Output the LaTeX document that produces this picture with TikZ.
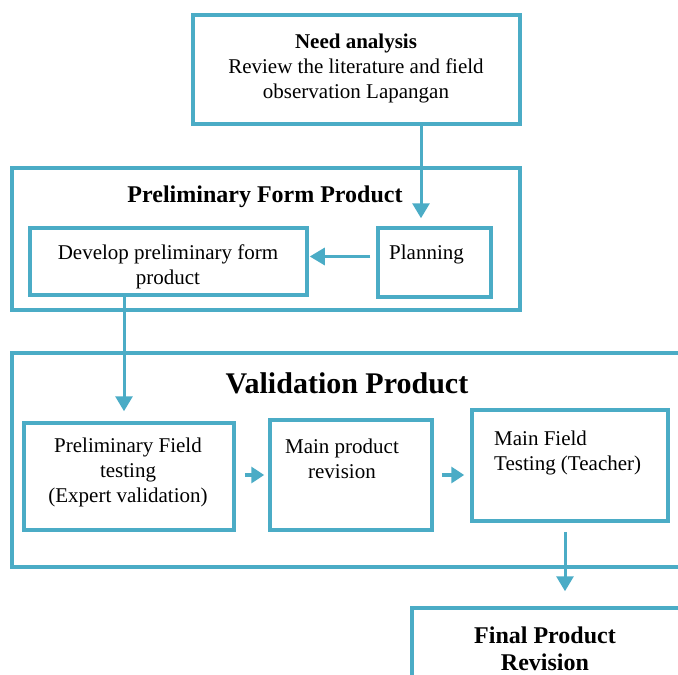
\documentclass[tikz,border=0pt]{standalone}
\usepackage{fontspec}
\setmainfont{Liberation Serif}
\usetikzlibrary{arrows.meta}
\definecolor{boxblue}{RGB}{75,172,198}
\tikzset{
  stage/.style={draw=boxblue, line width=3.5pt, inner sep=0pt},
  flow/.style={draw=boxblue, line width=3pt, -{Triangle[width=17pt,length=15pt]}},
  flowsmall/.style={draw=boxblue, line width=3.5pt, -{Triangle[width=16pt,length=13pt]}},
  txt/.style={font=\fontsize{21}{25}\selectfont, inner sep=0pt, align=center}
}
\begin{document}
\begin{tikzpicture}[x=1pt, y=-1pt]
		\useasboundingbox (0,0) rectangle (678,675);
		\clip (0,0) rectangle (678,675);
		\node[stage, minimum width=327pt, minimum height=109pt] (need) at (356.5,69.5) {};
		\node[stage, minimum width=508pt, minimum height=142pt] (pfp) at (266,239) {};
		\node[stage, minimum width=277pt, minimum height=67pt] (dev) at (168.5,261.5) {};
		\node[stage, minimum width=113pt, minimum height=69pt] (plan) at (434.5,262.5) {};
		\node[stage, minimum width=688pt, minimum height=214pt] (valid) at (356,460) {};
		\node[stage, minimum width=210pt, minimum height=107pt] (pfield) at (129,476.5) {};
		\node[stage, minimum width=162pt, minimum height=110pt] (mrev) at (351,475) {};
		\node[stage, minimum width=196pt, minimum height=111pt] (mfield) at (570,465.5) {};
		\node[stage, minimum width=288pt, minimum height=92pt] (final) at (556,654) {};
		\node[txt] (needtxt) at (356,68) {\textbf{Need analysis}\\Review the literature and field\\observation Lapangan};
		\node[txt, font=\fontsize{24}{28}\selectfont\bfseries] (pfptxt) at (265,197) {Preliminary Form Product};
		\node[txt] (devtxt) at (168,267) {Develop preliminary form\\product};
		\node[txt, anchor=west] (plantxt) at (389,254) {Planning};
		\node[txt, font=\fontsize{30}{34}\selectfont\bfseries] (validtxt) at (347,383) {Validation Product};
		\node[txt] (pfieldtxt) at (128,472) {Preliminary Field\\testing\\(Expert validation)};
		\node[txt] (mrevtxt) at (342,459) {Main product\\revision};
		\node[txt, anchor=west, align=left] (mfieldtxt) at (494,453) {Main Field\\Testing (Teacher)};
		\node[txt, font=\fontsize{24}{27}\selectfont\bfseries] (finaltxt) at (545,649) {Final Product\\Revision};
		\coordinate (c1) at (421,0);
		\coordinate (c2) at (124,0);
		\coordinate (c3) at (0,475);
		\coordinate (c4) at (565,0);
		\coordinate (c5) at (0,256.5);
		\draw[flow, shorten >=8pt] (need.south -| c1) -- (plan.north -| c1);
		\draw[flow, shorten <=6pt, shorten >=1pt] (plan.west |- c5) -- (dev.east |- c5);
		\draw[flow, shorten >=10pt] (dev.south -| c2) -- (pfield.north -| c2);
		\draw[flowsmall, shorten <=9pt, shorten >=4pt] (pfield.east |- c3) -- (mrev.west |- c3);
		\draw[flowsmall, shorten <=8pt, shorten >=6pt] (mrev.east |- c3) -- (mfield.west |- c3);
		\draw[flow, shorten <=9pt, shorten >=15pt] (mfield.south -| c4) -- (final.north -| c4);
	\end{tikzpicture}
\end{document}
